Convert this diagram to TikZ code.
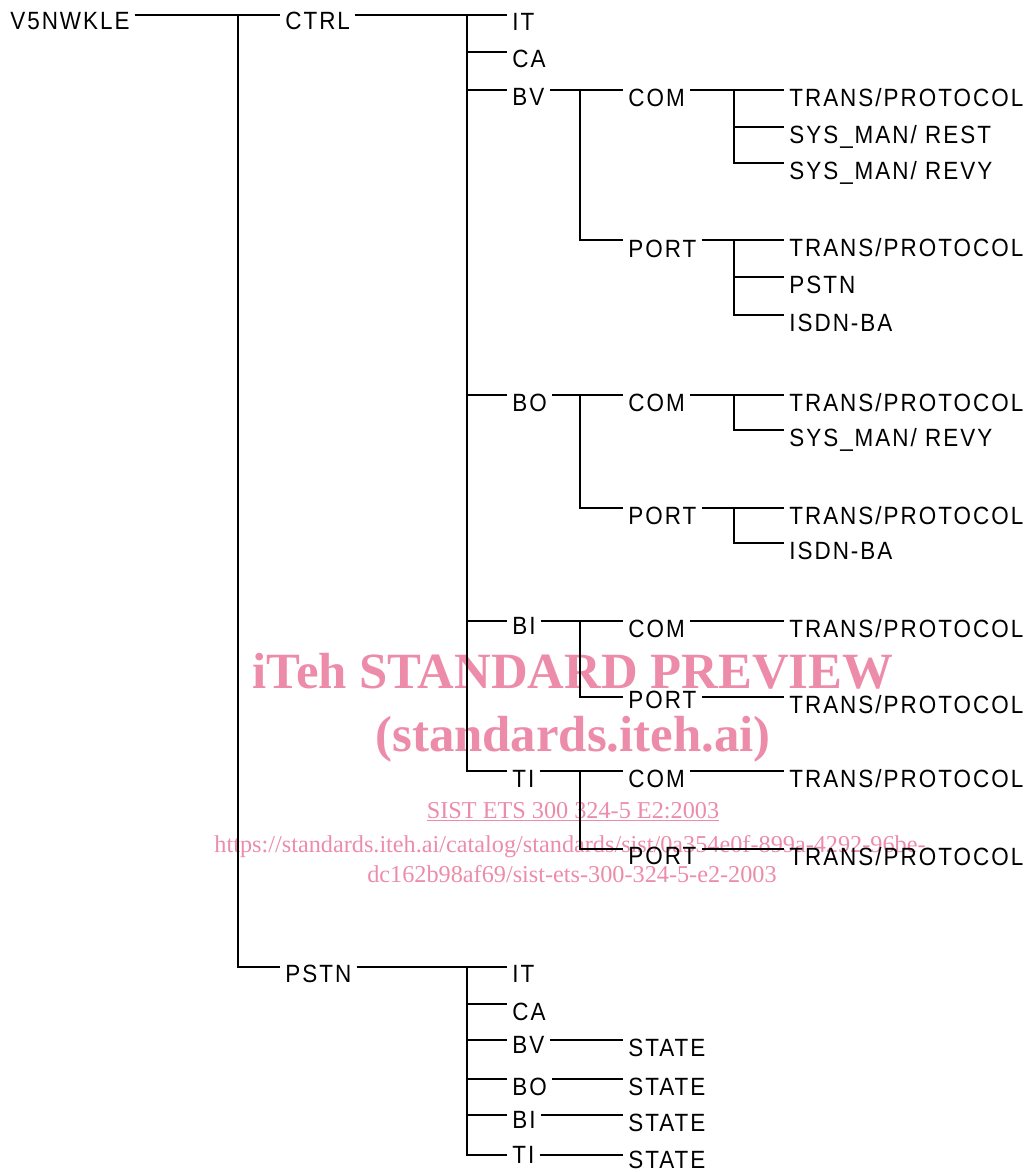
\documentclass[tikz,border=0pt]{standalone}
\usepackage{fontspec}
\setmainfont{Liberation Sans}
\newfontfamily\labelfont[LetterSpace=8,FakeStretch=0.9]{Liberation Sans}
\newfontfamily\markfont{Liberation Serif}
\usepackage{xcolor}
\usepackage{tikz}
\usetikzlibrary{calc}
\definecolor{wmpink}{RGB}{236,140,170}

\tikzset{
  lbl/.style={anchor=west, inner xsep=0.1cm, inner ysep=0pt, text height=0.66cm, text depth=0pt,
    font=\labelfont\fontsize{14.2}{17}\selectfont},
  lift/.style={text height=#1},
  wire/.style={line width=1.1pt},
  wmark/.style={anchor=base, inner sep=0pt, text=wmpink, font=\markfont\bfseries\fontsize{28.9}{32}\selectfont},
  wsmall/.style={anchor=base, inner sep=0pt, text=wmpink, font=\markfont\fontsize{13.8}{16}\selectfont},
}

\begin{document}
\begin{tikzpicture}[x=0.02cm, y=-0.02cm]
\useasboundingbox (0,0) rectangle (1030,1172);
\def\tpc{TRANS/PROTOCOL}
\def\smrest{SYS\_MAN/ REST}
\def\smrevy{SYS\_MAN/ REVY}

% watermark
\node[wmark] (wm1) at (573,688) {iTeh STANDARD PREVIEW};
\node[wmark] (wm2) at (573,751) {(standards.iteh.ai)};
\node[wsmall] (wm3) at (573,818) {\underline{SIST ETS 300 324-5 E2:2003}};
\node[wsmall] (wm4) at (570,852) {https://standards.iteh.ai/catalog/standards/sist/0a354e0f-899a-4292-96be-};
\node[wsmall] (wm5) at (572,882) {dc162b98af69/sist-ets-300-324-5-e2-2003};

% top level
\node[lbl, lift=0.6cm] (v5) at (5,15) {V5NWKLE};
\node[lbl, lift=0.6cm] (ctrl) at (280,15) {CTRL};
\node[lbl, lift=0.6cm] (pstn) at (280,967) {PSTN};
\draw[wire] (v5.east) -- (ctrl.west);
\draw[wire] ($(ctrl.west)+(-42,0)$) |- (pstn.west);

% CTRL branch
\foreach \nm/\txt/\yy/\th in {cit/IT/15/0.62, cca/CA/52/0.64, cbv/BV/90/0.62, cbo/BO/395/0.68, cbi/BI/621/0.52, cti/TI/771/0.64}
  \node[lbl, lift=\th cm] (\nm) at (507,\yy) {\txt};
\draw[wire] (ctrl.east) -- (cit.west);
\foreach \nm in {cca,cbv,cbo,cbi,cti}
  \draw[wire] ($(cit.west)+(-40,0)$) |- (\nm.west);

\foreach \nm/\yy in {bvcom/90, bocom/395, bicom/621, ticom/771}
  \node[lbl] (\nm) at (623,\yy) {COM};
\foreach \nm/\yy/\th in {bvport/240/0.7, boport/508/0.64, biport/697/0.46, tiport/849/0.6}
  \node[lbl, lift=\th cm] (\nm) at (623,\yy) {PORT};
\foreach \pa/\cm/\pt in {cbv/bvcom/bvport, cbo/bocom/boport, cbi/bicom/biport, cti/ticom/tiport}{
  \draw[wire] (\pa.east) -- (\cm.west);
  \draw[wire] ($(\cm.west)+(-43,0)$) |- (\pt.west);
}

\foreach \nm/\yy/\txt in {bvc1/90/\tpc, bvc2/127/\smrest, bvc3/163/\smrevy,
    bvp1/240/\tpc, bvp2/277/PSTN, bvp3/315/ISDN-BA,
    boc1/395/\tpc, boc2/430/\smrevy, bop1/508/\tpc, bop2/543/ISDN-BA,
    bic1/621/\tpc, bip1/697/\tpc, tic1/771/\tpc, tip1/849/\tpc}
  \node[lbl] (\nm) at (784,\yy) {\txt};
\foreach \pa/\lf in {bvcom/bvc1, bvport/bvp1, bocom/boc1, boport/bop1,
    bicom/bic1, biport/bip1, ticom/tic1, tiport/tip1}
  \draw[wire] (\pa.east) -- (\lf.west);
\foreach \lf/\sib in {bvc2/bvc1, bvc3/bvc1, bvp2/bvp1, bvp3/bvp1, boc2/boc1, bop2/bop1}
  \draw[wire] ($(\sib.west)+(-50,0)$) |- (\lf.west);

% PSTN branch
\foreach \nm/\txt/\yy/\th in {pit/IT/967/0.62, pca/CA/1004/0.66, pbv/BV/1040/0.52,
    pbo/BO/1079/0.64, pbi/BI/1115/0.52, pti/TI/1155/0.32}
  \node[lbl, lift=\th cm] (\nm) at (507,\yy) {\txt};
\draw[wire] (pstn.east) -- (pit.west);
\foreach \nm in {pca,pbv,pbo,pbi,pti}
  \draw[wire] ($(pit.west)+(-40,0)$) |- (\nm.west);
\foreach \nm/\pa/\th in {sbv/pbv/0.64, sbo/pbo/0.64, sbi/pbi/0.66, sti/pti/0.54}{
  \node[lbl, lift=\th cm] (\nm) at ($(\pa.west)+(116,0)$) {STATE};
  \draw[wire] (\pa.east) -- (\nm.west);
}
\end{tikzpicture}
\end{document}
